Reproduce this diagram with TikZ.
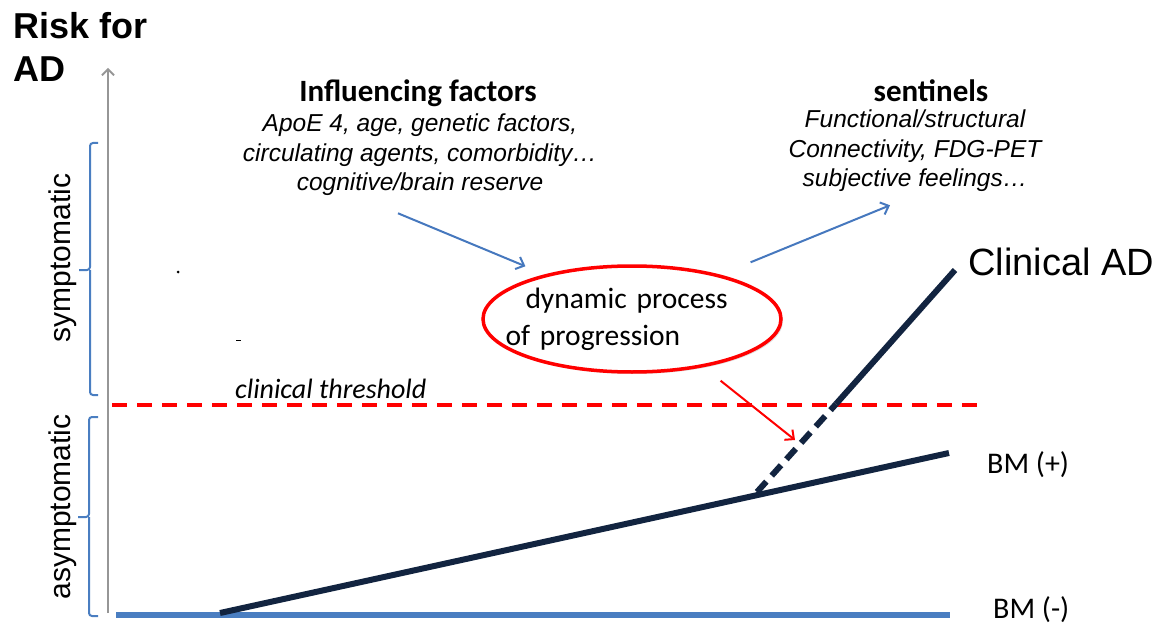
\documentclass[tikz,border=0pt]{standalone}
\usepackage{fontspec}
\setmainfont{Liberation Sans}
\newfontfamily\calibri{Carlito}
\usetikzlibrary{arrows.meta,calc,positioning,shapes.geometric,shadows}

\definecolor{bmblue}{RGB}{74,126,193}
\definecolor{bmnavy}{RGB}{18,36,64}
\definecolor{axisgray}{RGB}{150,150,150}
\definecolor{flowblue}{RGB}{70,120,190}
\definecolor{alarmred}{RGB}{255,0,0}

\tikzset{
  axisline/.style={draw=axisgray, line width=1.8pt, -{Straight Barb[length=6pt,width=12pt]}},
  bracket/.style={draw=bmblue, line width=2pt, rounded corners=3pt},
  phase/.style={rotate=90, inner sep=0pt, font=\fontsize{30}{36}\selectfont},
  heading/.style={anchor=base, inner sep=0pt, font=\calibri\bfseries\fontsize{31}{36}\selectfont},
  itlist/.style={anchor=base, inner sep=0pt, align=center, font=\itshape\fontsize{24.5}{29.5}\selectfont},
  bmlabel/.style={anchor=base west, inner sep=0pt, font=\calibri\fontsize{30}{36}\selectfont},
  flow/.style={draw=flowblue, line width=2pt, -{Straight Barb[length=7pt,width=13pt]}},
  redflow/.style={draw=alarmred, line width=2pt, -{Straight Barb[length=7pt,width=13pt]}},
  ring/.style={ellipse, draw=alarmred, line width=3.5pt, fill=white, minimum width=298pt, minimum height=106pt,
    drop shadow={opacity=0.25, shadow xshift=2pt, shadow yshift=-2pt}},
  course/.style={draw=bmnavy, line width=6pt},
}

\begin{document}
\begin{tikzpicture}[x=1pt,y=-1pt]
\useasboundingbox (0,0) rectangle (1170,631);

% axis title
\node[anchor=base west, inner sep=0pt, align=left, font=\bfseries\fontsize{36}{43}\selectfont] (risk) at (13,82) {Risk for\\AD};

% vertical axis
\coordinate (axbot) at (108,613);
\coordinate (axtop) at (108,68);
\draw[axisline] (axbot) -- (axtop);

% phase brackets
\draw[bracket] (98,143) -| (90,270) -- (79,270) (90,270) |- (98,395);
\draw[bracket] (98,417) -| (89,517) -- (78,517) (89,517) |- (98,616);
\node[phase] (sympt) at (63,258) {symptomatic};
\node[phase] (asympt) at (63,507) {asymptomatic};

% stray marks
\fill (178,272) circle (1.5pt);
\fill (236,339.5) rectangle (241,341);

% clinical threshold
\coordinate (thl) at (112,405);
\coordinate (thr) at (980,405);
\draw[alarmred, line width=4pt, dash pattern=on 15pt off 10pt] (thl) -- (thr);
\node[anchor=base west, inner sep=0pt, font=\calibri\itshape\fontsize{28}{32}\selectfont] (thlabel) at (235,398) {clinical threshold};

% biomarker courses
\coordinate (bmnl) at (116,615);
\coordinate (bmnr) at (950,615);
\draw[draw=bmblue, line width=6pt] (bmnl) -- (bmnr);
\coordinate (bmpl) at (220,613);
\coordinate (bmpr) at (949,453);
\coordinate (onset) at (757,492);
\coordinate (cross) at (836,404);
\coordinate (adtop) at (955,270);
\draw[course] (bmpl) -- (bmpr);
\draw[course, dash pattern=on 14pt off 8pt] (onset) -- (cross);
\draw[course] (cross) -- (adtop);

\node[anchor=base west, inner sep=0pt, font=\fontsize{38}{44}\selectfont] (clinad) at (968,275) {Clinical AD};
\node[bmlabel] (bmplus) at (987,473) {BM (+)};
\node[bmlabel] (bmminus) at (993,618) {BM (-)};

% dynamic process
\node[ring] (ring) at (632,319) {};
\node[inner sep=0pt, align=left, text width=253pt, font=\calibri\fontsize{29.5}{37}\selectfont] (process) at (ring) {\hspace*{20pt}dynamic process\\of progression};

% influencing factors
\node[heading] (factors) at (418,102) {Influencing factors};
\node[itlist] (factlist) at (420,191) {ApoE 4, age, genetic factors,\\circulating agents, comorbidity\dots\\cognitive/brain reserve};

% sentinels
\node[heading] (sentinels) at (931,102) {sentinels};
\node[itlist] (sentlist) at (915,187) {Functional/structural\\Connectivity, FDG-PET\\subjective feelings\dots};

% arrows
\draw[flow] ([xshift=-22pt,yshift=-17pt]factlist.south) -- ([yshift=14pt]ring.north west);
\draw[flow] ([xshift=12pt,yshift=18pt]ring.north east) -- ([xshift=-25pt,yshift=-13pt]sentlist.south);
\coordinate (hit) at (795,440);
\draw[redflow] ([xshift=-18pt,yshift=-23pt]ring.south east) -- (hit);

\end{tikzpicture}
\end{document}
